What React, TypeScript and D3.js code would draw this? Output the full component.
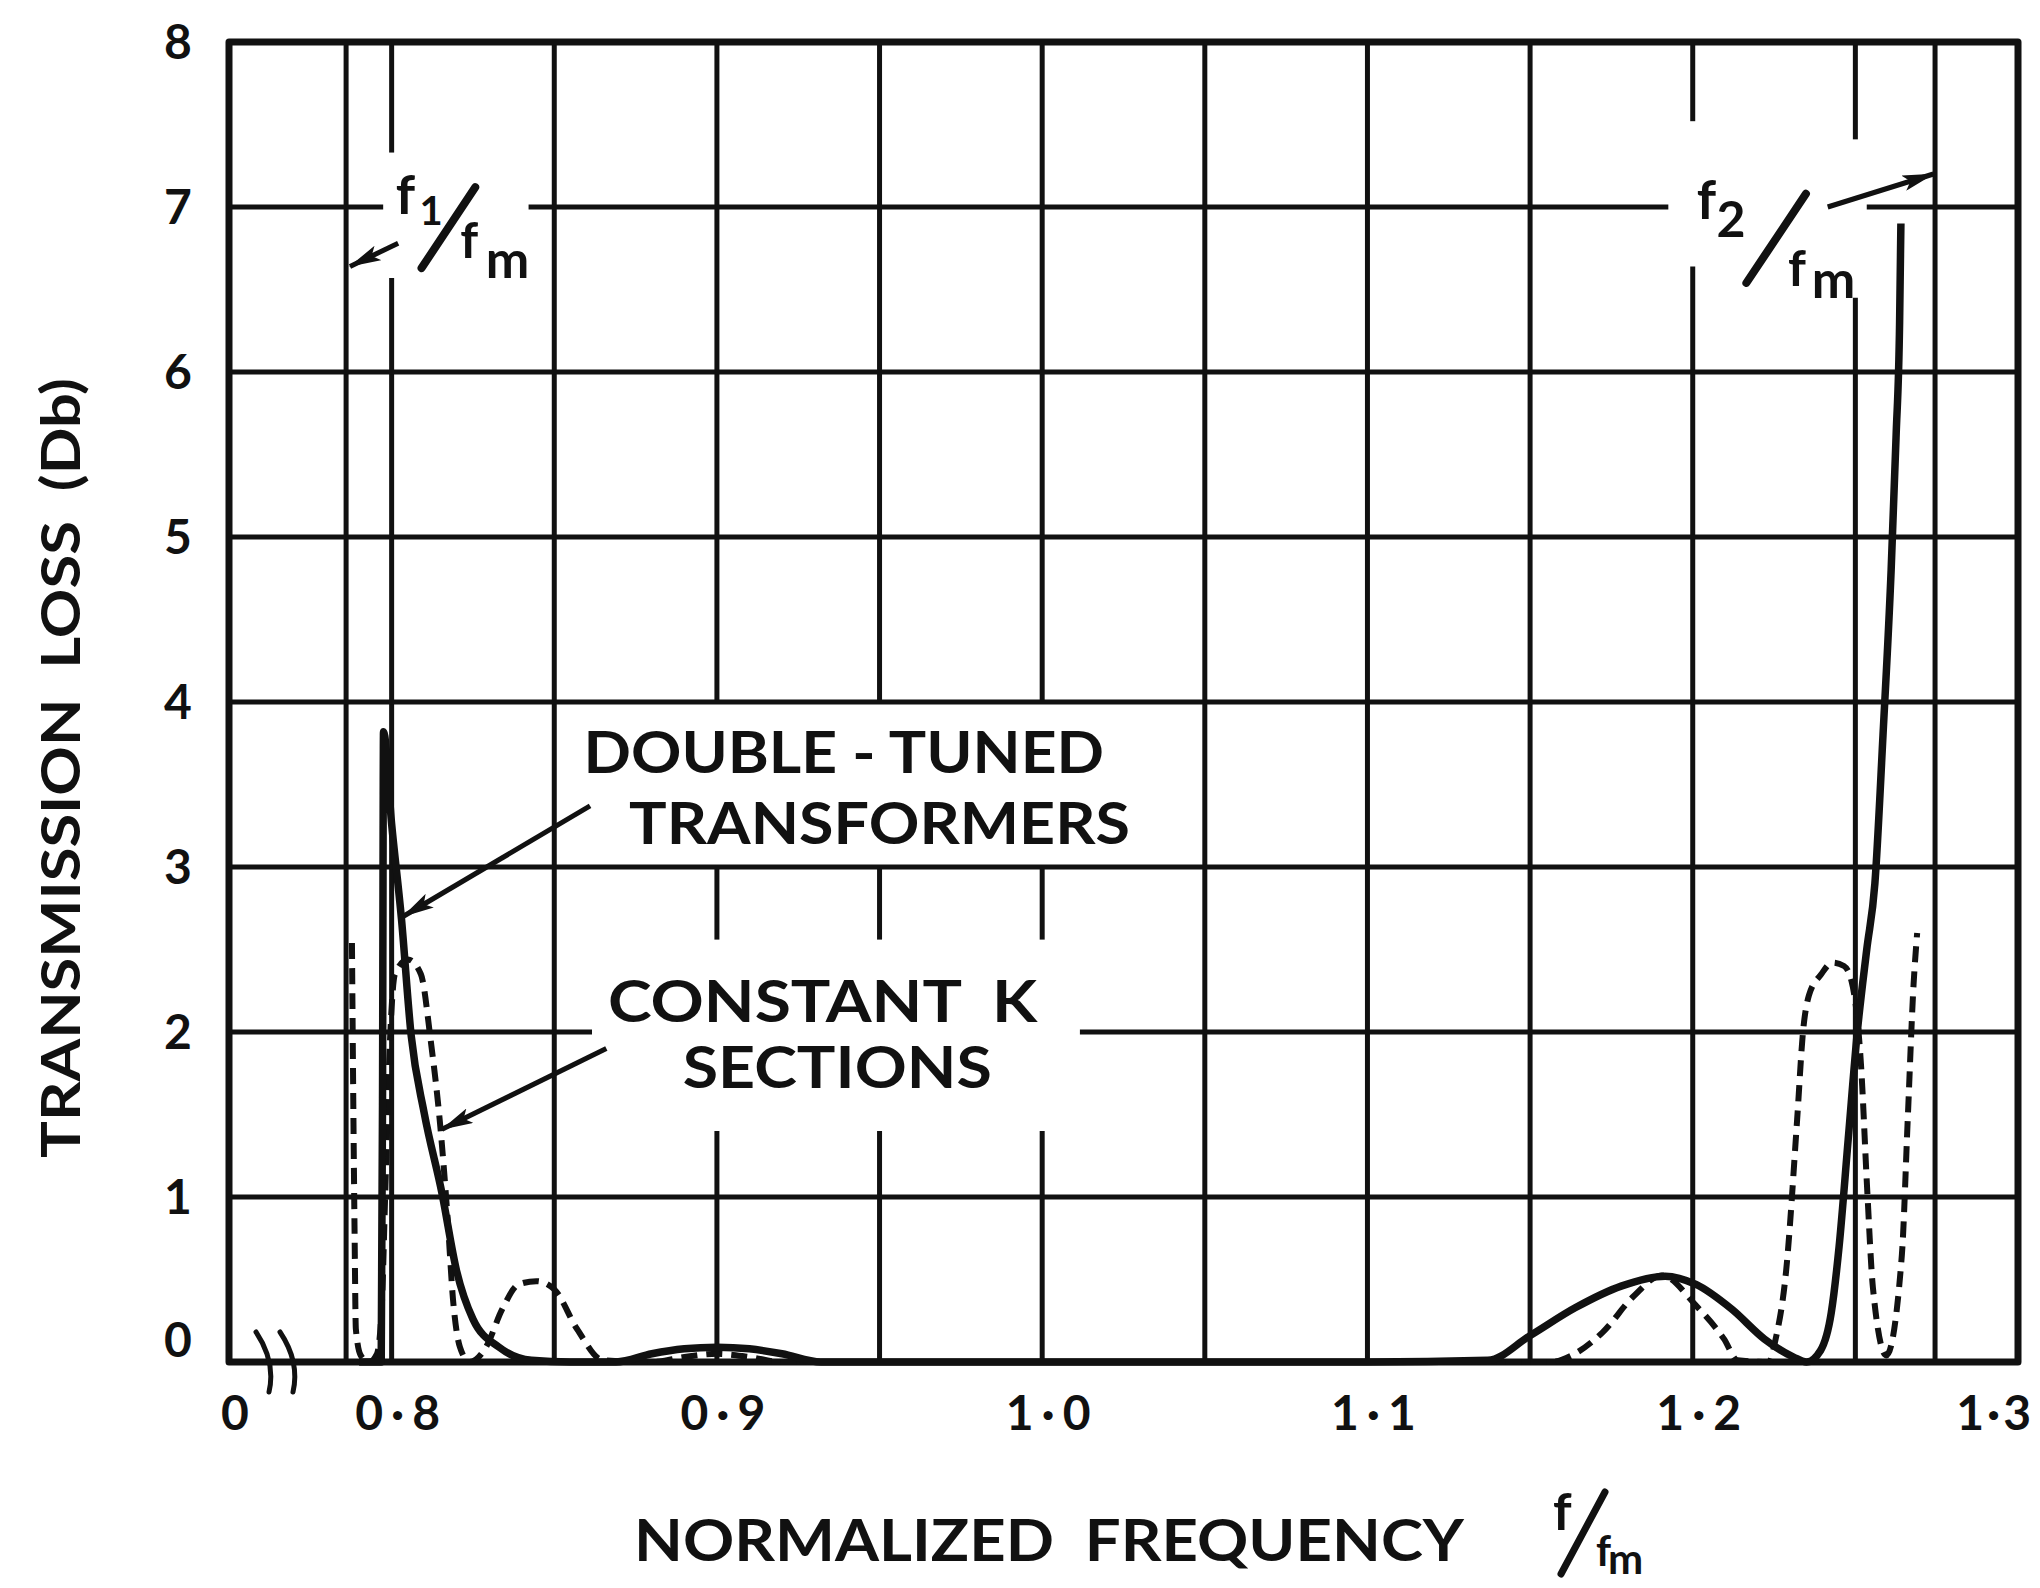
import React from "react";
import * as d3 from "d3";

// ---- data ----
const xTickValues = [0.8, 0.9, 1.0, 1.1, 1.2, 1.3];
const xTickLabels = ["0·8", "0·9", "1·0", "1·1", "1·2", "1·3"];
const xGridValues = [0.8, 0.85, 0.9, 0.95, 1.0, 1.05, 1.1, 1.15, 1.2, 1.25];
const cutoffValues = [0.786, 1.2745]; // f1/fm , f2/fm
const yTickValues = [0, 1, 2, 3, 4, 5, 6, 7, 8];
const yTickLabels = ["0", "1", "2", "3", "4", "5", "6", "7", "8"];

// double-tuned transformers (solid)
const doubleTunedFreq = [
  0.79, 0.7968, 0.7972, 0.7975, 0.8, 0.803, 0.806, 0.81, 0.8155, 0.82, 0.825, 0.833, 0.843, 0.855,
  0.869, 0.88, 0.89, 0.9, 0.91, 0.92, 0.932, 1.0, 1.1, 1.137, 1.15, 1.164, 1.178, 1.1915, 1.201,
  1.212, 1.222, 1.231, 1.235, 1.2393, 1.2426, 1.245, 1.2478, 1.2506, 1.2535, 1.256, 1.2585, 1.261,
  1.2625, 1.2636, 1.264,
];
const doubleTunedLoss = [
  0, 0, 1.6, 3.82, 3.26, 2.69, 1.98, 1.51, 1.02, 0.55, 0.26, 0.09, 0.01, 0,
  0, 0.05, 0.08, 0.09, 0.08, 0.05, 0, 0, 0, 0.01, 0.16, 0.33, 0.46, 0.52, 0.47,
  0.32, 0.14, 0.03, 0, 0.07, 0.3, 0.7, 1.35, 2.0, 2.5, 2.9, 3.8, 4.8,
  5.6, 6.3, 6.9,
];

// constant K sections (dashed)
const constantKFreq = [
  0.7878, 0.7882, 0.7886, 0.789, 0.7905, 0.793, 0.7955, 0.797, 0.798, 0.7995, 0.801, 0.805, 0.809,
  0.812, 0.815, 0.817, 0.819, 0.821, 0.824, 0.829, 0.834, 0.839, 0.8445, 0.85, 0.857, 0.865, 0.88,
  0.89, 0.9, 0.91, 0.92, 1.1, 1.1564, 1.1628, 1.1723, 1.1819, 1.1904, 1.2011, 1.2096, 1.2138,
  1.2234, 1.2255, 1.2287, 1.2321, 1.2339, 1.2357, 1.2395, 1.2429, 1.2465, 1.2488, 1.2518, 1.2536,
  1.2554, 1.2595, 1.2643, 1.2661, 1.2679, 1.269,
];
const constantKLoss = [
  2.54, 1.6, 0.8, 0.2, 0.04, 0, 0.05, 0.35, 1.0, 1.95, 2.35, 2.44, 2.35,
  1.95, 1.42, 0.93, 0.35, 0.09, 0, 0.09, 0.32, 0.47, 0.49, 0.44, 0.2, 0.01, 0,
  0.03, 0.05, 0.03, 0, 0, 0, 0.04, 0.18, 0.4, 0.525, 0.34, 0.14, 0.01,
  0, 0.14, 0.55, 1.47, 2.0, 2.22, 2.35, 2.42, 2.4, 2.31, 1.78, 1.06,
  0.45, 0.04, 0.65, 1.47, 2.29, 2.6,
];

// ---- layout: gaps in the grid where the lettering sits ----
const vGaps = new Map<number, number[][]>([
  [0.8, [[6.57, 7.33]]],
  [0.9, [[1.4, 2.56], [3, 4]]],
  [0.95, [[1.4, 2.56], [3, 4]]],
  [1.0, [[1.4, 2.56], [3, 4]]],
  [1.2, [[6.64, 7.52]]],
  [1.25, [[6.45, 7.41]]],
]);
const hGaps = new Map<number, number[][]>([
  [2, [[0.8616, 1.0116]]],
  [7, [[0.7974, 0.8421], [1.1925, 1.2535]]],
]);

const FONT = "Lato, 'DejaVu Sans', sans-serif";

const pieces = (lo: number, hi: number, gaps: number[][] = []) => {
  const out: number[][] = [];
  let a = lo;
  gaps.forEach(([g0, g1]) => {
    out.push([a, g0]);
    a = g1;
  });
  out.push([a, hi]);
  return out;
};

export default function App() {
  const width = 2040,
    height = 1588,
    margin = { top: 42, right: 22, bottom: 226, left: 229 };

  const x = d3.scaleLinear().domain([0.75, 1.3]).range([margin.left, width - margin.right]);
  const y = d3.scaleLinear().domain([0, 8]).range([height - margin.bottom, margin.top]);

  const line = d3
    .line<[number, number]>()
    .x((d) => x(d[0]))
    .y((d) => y(d[1]))
    .curve(d3.curveMonotoneX);

  const solid = doubleTunedFreq.map((f, i) => [f, doubleTunedLoss[i]] as [number, number]);
  const dashed = constantKFreq.map((f, i) => [f, constantKLoss[i]] as [number, number]);

  const gridW = 5;

  // labels inside the plot (data coordinates, baseline-left)
  const notes = [
    { t: "DOUBLE - TUNED", x0: 0.859, base: 3.57, len: 0.16 },
    { t: "TRANSFORMERS", x0: 0.873, base: 3.14, len: 0.154 },
    { t: "CONSTANT  K", x0: 0.8665, base: 2.06, len: 0.132 },
    { t: "SECTIONS", x0: 0.8895, base: 1.66, len: 0.095 },
  ];
  const arrows = [
    { from: [0.802, 6.78], to: [0.7872, 6.64] },
    { from: [1.2415, 7.0], to: [1.274, 7.2] },
    { from: [0.861, 3.37], to: [0.8035, 2.7] },
    { from: [0.866, 1.9], to: [0.8155, 1.41] },
  ];

  const frac = (
    f: number[],
    sub: number[],
    subText: string,
    subSize: number,
    sl: number[][],
    fm: number[],
    m: number[]
  ) => (
    <g fontFamily={FONT} fontWeight={700} fill="#111">
      <text x={x(f[0])} y={y(f[1])} fontSize={54}>f</text>
      <text x={x(sub[0])} y={y(sub[1])} fontSize={subSize}>{subText}</text>
      <line
        x1={x(sl[0][0])} y1={y(sl[0][1])} x2={x(sl[1][0])} y2={y(sl[1][1])}
        stroke="#111" strokeWidth={8} strokeLinecap="round"
      />
      <text x={x(fm[0])} y={y(fm[1])} fontSize={50}>f</text>
      <text x={x(m[0])} y={y(m[1])} fontSize={52}>m</text>
    </g>
  );

  return (
    <svg
      width={width}
      height={height}
      style={{ position: "absolute", left: 0, top: 0, display: "block", background: "#fff" }}
    >
      <defs>
        <marker
          id="ah" viewBox="0 0 32 16" refX={31} refY={8}
          markerWidth={32} markerHeight={16} markerUnits="userSpaceOnUse" orient="auto"
        >
          <path d="M0,0 L32,8 L0,16 L7,8 Z" fill="#111" />
        </marker>
      </defs>
      <rect width={width} height={height} fill="#fff" />

      {/* grid */}
      <g stroke="#111" strokeWidth={gridW}>
        {[...xGridValues, ...cutoffValues].map((v) =>
          pieces(0, 8, vGaps.get(v)).map(([a, b], i) => (
            <line key={v + "-" + i} x1={x(v)} x2={x(v)} y1={y(a)} y2={y(b)} />
          ))
        )}
        {yTickValues.slice(1, -1).map((v) =>
          pieces(0.75, 1.3, hGaps.get(v)).map(([a, b], i) => (
            <line key={"h" + v + "-" + i} x1={x(a)} x2={x(b)} y1={y(v)} y2={y(v)} />
          ))
        )}
      </g>

      {/* frame */}
      <rect
        x={x(0.75)} y={y(8)} width={x(1.3) - x(0.75)} height={y(0) - y(8)}
        fill="none" stroke="#111" strokeWidth={7} strokeLinejoin="round"
      />

      {/* axis break */}
      <g stroke="#111" strokeWidth={5} fill="none" strokeLinecap="round">
        {[0, 24].map((dx) => (
          <path
            key={dx}
            d={`M${x(0.75) + 27 + dx},${y(0) - 30} Q${x(0.75) + 47 + dx},${y(0)} ${x(0.75) + 40 + dx},${y(0) + 30}`}
          />
        ))}
      </g>

      {/* curves */}
      <path d={line(dashed) ?? ""} fill="none" stroke="#111" strokeWidth={6} strokeDasharray="16 9" />
      <path d={line(solid) ?? ""} fill="none" stroke="#111" strokeWidth={7.5} strokeLinejoin="round" />

      {/* arrows */}
      <g stroke="#111" strokeWidth={5}>
        {arrows.map((a, i) => (
          <line
            key={i} x1={x(a.from[0])} y1={y(a.from[1])} x2={x(a.to[0])} y2={y(a.to[1])}
            markerEnd="url(#ah)"
          />
        ))}
      </g>

      {/* cutoff labels */}
      {frac([0.8013, 6.96], [0.8086, 6.89], "1", 40, [[0.8092, 6.63], [0.8257, 7.12]], [0.8211, 6.69], [0.8289, 6.57])}
      {frac([1.2012, 6.93], [1.2073, 6.82], "2", 50, [[1.2165, 6.54], [1.2348, 7.08]], [1.2293, 6.52], [1.2366, 6.45])}

      {/* curve labels */}
      <g fontFamily={FONT} fontWeight={700} fontSize={58} fill="#111">
        {notes.map((n) => (
          <text
            key={n.t} x={x(n.x0)} y={y(n.base)} textLength={x(n.x0 + n.len) - x(n.x0)}
            lengthAdjust="spacingAndGlyphs" style={{ whiteSpace: "pre" }}
          >
            {n.t}
          </text>
        ))}
      </g>

      {/* tick labels */}
      <g fontFamily={FONT} fontWeight={700} fontSize={48} fill="#111" textAnchor="middle">
        {yTickValues.map((v, i) => (
          <text key={"y" + v} x={178} y={y(v) + 17 - (v === 0 ? 22 : 0)}>
            {yTickLabels[i]}
          </text>
        ))}
        <text x={x(0.75) + 6} y={y(0) + 68}>0</text>
        {xTickValues.map((v, i) =>
          v === 1.3 ? (
            <text key={"x" + v} x={2034} y={y(0) + 68} textAnchor="end" letterSpacing={3}>
              {xTickLabels[i]}
            </text>
          ) : (
            <text key={"x" + v} x={x(v) + 10} y={y(0) + 68} letterSpacing={8}>
              {xTickLabels[i]}
            </text>
          )
        )}
      </g>

      {/* axis titles */}
      <g fontFamily={FONT} fontWeight={700} fill="#111">
        <text
          transform="translate(80,768) rotate(-90)" textAnchor="middle" fontSize={54}
          textLength={780} lengthAdjust="spacingAndGlyphs" style={{ whiteSpace: "pre" }}
        >
          TRANSMISSION  LOSS  (Db)
        </text>
        <text
          x={634} y={1561} fontSize={58} textLength={830} lengthAdjust="spacingAndGlyphs"
          style={{ whiteSpace: "pre" }}
        >
          NORMALIZED  FREQUENCY
        </text>
        <text x={1553} y={1530} fontSize={52}>f</text>
        <line x1={1561} y1={1574} x2={1605} y2={1492} stroke="#111" strokeWidth={7} strokeLinecap="round" />
        <text x={1596} y={1566} fontSize={42}>f</text>
        <text x={1608} y={1574} fontSize={42}>m</text>
      </g>
    </svg>
  );
}
